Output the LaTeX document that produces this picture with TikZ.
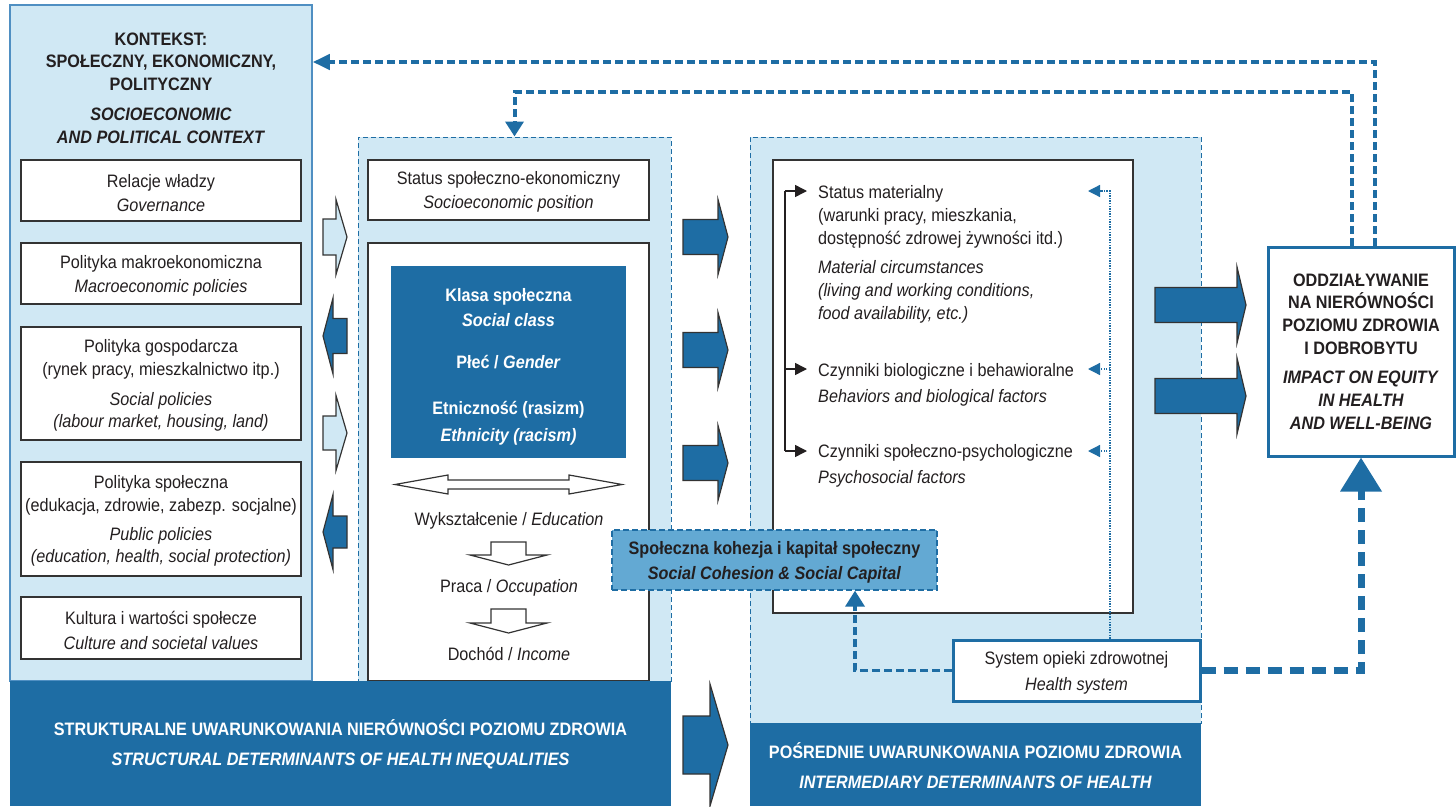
\documentclass[tikz,border=0pt]{standalone}
\usepackage{fontspec}
\setmainfont[FakeStretch=0.9]{Liberation Sans}
\usetikzlibrary{arrows.meta}

\definecolor{dblue}{HTML}{1E6DA4}
\definecolor{lblue}{HTML}{D0E8F4}
\definecolor{mblue}{HTML}{63A9D3}
\definecolor{pblue}{HTML}{4F8FC2}
\definecolor{txt}{HTML}{231F20}
\definecolor{edge}{HTML}{333333}

\newcommand{\fsz}{\fontsize{18}{22.7}\selectfont}
\newcommand{\tp}{\rule{0pt}{17.5pt}}

\tikzset{
  pics/fatarrow/.style args={#1/#2/#3/#4}{code={
    \path[pic actions] (0,-#3) -- (#1,-#3) -- (#1,-#4) -- ({#1+#2},0)
      -- (#1,#4) -- (#1,#3) -- (0,#3) -- cycle;}},
  pics/dblarrow/.style args={#1/#2/#3/#4}{code={
    \path[pic actions] (-#1,0) -- ({-#1+#2},-#4) -- ({-#1+#2},-#3) -- ({#1-#2},-#3)
      -- ({#1-#2},-#4) -- (#1,0) -- ({#1-#2},#4) -- ({#1-#2},#3)
      -- ({-#1+#2},#3) -- ({-#1+#2},#4) -- cycle;}}
}

\begin{document}
\begin{tikzpicture}[x=1pt,y=-1pt,
  every node/.style={font=\fsz, text=txt, inner sep=0pt},
  panel/.style={draw=pblue, line width=1.5pt, fill=lblue},
  dpanel/.style={draw=dblue, dash pattern=on 5pt off 3pt, line width=1pt, fill=lblue},
  box/.style={draw=edge, line width=1.2pt, fill=white, align=center},
  bar/.style={fill=dblue, text=white, font=\fsz\bfseries, align=center},
  hollow/.style={draw=edge, line width=1.2pt, fill=white},
  lightarr/.style={draw=edge, line width=1.2pt, fill=lblue},
  darkarr/.style={draw=edge, line width=1.2pt, fill=dblue},
  fb/.style={draw=dblue, line width=4pt, dash pattern=on 8pt off 4pt},
  hsys/.style={draw=dblue, line width=7pt, dash pattern=on 14pt off 8pt},
  hcoh/.style={draw=dblue, line width=3.5pt, dash pattern=on 8pt off 4pt},
  dotln/.style={draw=dblue, line width=1.3pt, dash pattern=on 1.3pt off 1.3pt},
  brk/.style={draw=txt, line width=1.5pt}]
  \useasboundingbox (0,0) rectangle (1456,806);

  % context panel
  \node[panel, minimum width=302, minimum height=676] (ctx) at (161,343) {};
  \node[font=\fsz\bfseries, align=center] (ctxtitle) at (161,88)
    {KONTEKST:\\SPOŁECZNY, EKONOMICZNY,\\POLITYCZNY\\[7pt]\textit{SOCIOECONOMIC}\\\textit{AND POLITICAL CONTEXT}};
  \node[box, minimum width=280, minimum height=61] (gov) at (161,190.5)
    {\tp Relacje władzy\\[1.5pt]\textit{Governance}};
  \node[box, minimum width=280, minimum height=61] (macro) at (161,273.5)
    {\tp Polityka makroekonomiczna\\[2pt]\textit{Macroeconomic policies}};
  \node[box, minimum width=280, minimum height=113] (socpol) at (161,383.5)
    {\tp Polityka gospodarcza\\(rynek pracy, mieszkalnictwo itp.)\\[7pt]\textit{Social policies}\\\textit{(labour market, housing, land)}};
  \node[box, minimum width=280, minimum height=114] (pubpol) at (161,519)
    {\tp Polityka społeczna\\(edukacja, zdrowie, zabezp. socjalne)\\[6pt]\textit{Public policies}\\\textit{(education, health, social protection)}};
  \node[box, minimum width=280, minimum height=62] (culture) at (161,628)
    {\tp Kultura i wartości społecze\\[2pt]\textit{Culture and societal values}};

  % structural determinants
  \node[dpanel, minimum width=313, minimum height=544] (struct) at (514.5,409) {};
  \node[box, minimum width=281, minimum height=60] (sep) at (508.5,190)
    {\tp Status społeczno-ekonomiczny\\[1.5pt]\textit{Socioeconomic position}};
  \node[box, minimum width=281, minimum height=438] (strat) at (508.5,462) {};
  \node[fill=dblue, text=white, font=\fsz\bfseries, align=center,
        minimum width=235, minimum height=192] (classbox) at (508.5,362)
    {\rule{0pt}{22pt}Klasa społeczna\\[3pt]\textit{Social class}\\[19pt]Płeć / \textit{Gender}\\[23pt]Etniczność (rasizm)\\[4pt]\textit{Ethnicity (racism)}};
  \pic[hollow] at (508.5,484.5) {dblarrow=113.5/53/4.5/9.5};
  \node (edu) at (509,519) {\tp Wykształcenie / \textit{Education}};
  \pic[hollow, rotate=-90] at (508.5,542) {fatarrow=13/10/17.5/38.5};
  \node (occ) at (509,586) {\tp Praca / \textit{Occupation}};
  \pic[hollow, rotate=-90] at (508.5,609) {fatarrow=14/10/17.5/38.5};
  \node (inc) at (509,652) {\tp Dochód / \textit{Income}};

  % intermediary determinants
  \node[dpanel, minimum width=451, minimum height=586] (inter) at (975.5,430) {};
  \node[box, minimum width=360, minimum height=453] (interbox) at (953,386.5) {};
  \node[align=left, anchor=west, inner xsep=11pt] (mat) at (807,252)
    {\tp Status materialny\\(warunki pracy, mieszkania,\\dostępność zdrowej żywności itd.)\\[7pt]\textit{Material circumstances}\\\textit{(living and working conditions,}\\\textit{food availability, etc.)}};
  \node[align=left, anchor=west, inner xsep=11pt] (beh) at (807,382.5)
    {\tp Czynniki biologiczne i behawioralne\\[3pt]\textit{Behaviors and biological factors}};
  \node[align=left, anchor=west, inner xsep=11pt] (psy) at (807,463.5)
    {\tp Czynniki społeczno-psychologiczne\\[3pt]\textit{Psychosocial factors}};

  % bottom bars
  \node[bar, minimum width=661, minimum height=125] (structbar) at (340.5,743.5)
    {\tp STRUKTURALNE UWARUNKOWANIA NIERÓWNOŚCI POZIOMU ZDROWIA\\[7pt]\textit{STRUCTURAL DETERMINANTS OF HEALTH INEQUALITIES}};
  \node[bar, minimum width=451, minimum height=83] (interbar) at (975.5,764.5)
    {\tp POŚREDNIE UWARUNKOWANIA POZIOMU ZDROWIA\\[7pt]\textit{INTERMEDIARY DETERMINANTS OF HEALTH}};

  % block arrows
  \pic[lightarr] at (323,237) {fatarrow=13/11/18/37.5};
  \pic[darkarr, rotate=180] at (347,336) {fatarrow=14/10/17.5/38};
  \pic[lightarr] at (323,433) {fatarrow=13/11/17/37.5};
  \pic[darkarr, rotate=180] at (347,532) {fatarrow=14/10/16/37.5};
  \pic[darkarr] at (683,237) {fatarrow=35/10/17.5/37.5};
  \pic[darkarr] at (683,350) {fatarrow=35/10/17.5/37.5};
  \pic[darkarr] at (683,463) {fatarrow=35/10/17.5/37.5};
  \pic[darkarr] at (683,745) {fatarrow=27/18/29/61};
  \pic[darkarr] at (1155,305) {fatarrow=82/9/17.5/38};
  \pic[darkarr] at (1155,396) {fatarrow=82/9/17.5/38};

  \node[draw=dblue, dash pattern=on 6pt off 3pt, line width=1.3pt, fill=mblue,
        font=\fsz\bfseries, align=center, minimum width=325, minimum height=60] (cohesion) at (774.5,560)
    {\tp Społeczna kohezja i kapitał społeczny\\[2pt]\textit{Social Cohesion \& Social Capital}};
  \node[draw=dblue, line width=3pt, fill=white, align=center,
        minimum width=247, minimum height=61] (health) at (1076.5,670.5)
    {\tp System opieki zdrowotnej\\[4pt]\textit{Health system}};
  \node[draw=dblue, line width=3pt, fill=white, font=\fsz\bfseries, align=center,
        minimum width=186, minimum height=209] (impact) at (1361,351.5)
    {ODDZIAŁYWANIE\\NA NIERÓWNOŚCI\\POZIOMU ZDROWIA\\I DOBROBYTU\\[7pt]\textit{IMPACT ON EQUITY}\\\textit{IN HEALTH}\\\textit{AND WELL-BEING}};

  % connectors
  \coordinate (rowA) at (785,191);
  \coordinate (rowB) at (785,369);
  \coordinate (rowC) at (785,451);
  \draw[brk] (rowA) -- (rowC);
  \draw[brk, -{Triangle[length=12pt,width=12pt]}] (rowA) -- (mat.west |- rowA);
  \draw[brk, -{Triangle[length=12pt,width=12pt]}] (rowB) -- (beh.west |- rowB);
  \draw[brk, -{Triangle[length=12pt,width=12pt]}] (rowC) -- (psy.west |- rowC);

  \coordinate (dotx) at (1110,0);
  \coordinate (tipA) at (1088,191);
  \coordinate (tipB) at (1088,369);
  \coordinate (tipC) at (1088,451);
  \draw[dotln, -{Triangle[length=12pt,width=12pt]}] (health.north -| dotx) |- (tipA);
  \draw[dotln, -{Triangle[length=12pt,width=12pt]}] (tipB -| dotx) -- (tipB);
  \draw[dotln, -{Triangle[length=12pt,width=12pt]}] (tipC -| dotx) -- (tipC);

  \coordinate (cohx) at (855,0);
  \draw[hcoh, -{Triangle[length=16pt,width=19pt]}] (health.west) -| (cohesion.south -| cohx);
  \draw[hsys, -{Triangle[length=34pt,width=40pt]}] (health.east) -| (impact.south);

  \coordinate (fbo) at (1375,62);
  \coordinate (fbi) at (1352,92);
  \draw[fb, -{Triangle[length=17pt,width=15pt]}] (impact.north -| fbo) -- (fbo) -- (ctx.east |- fbo);
  \draw[fb, -{Triangle[length=15pt,width=18pt]}] (impact.north -| fbi) -- (fbi) -| (struct.north);
\end{tikzpicture}
\end{document}
